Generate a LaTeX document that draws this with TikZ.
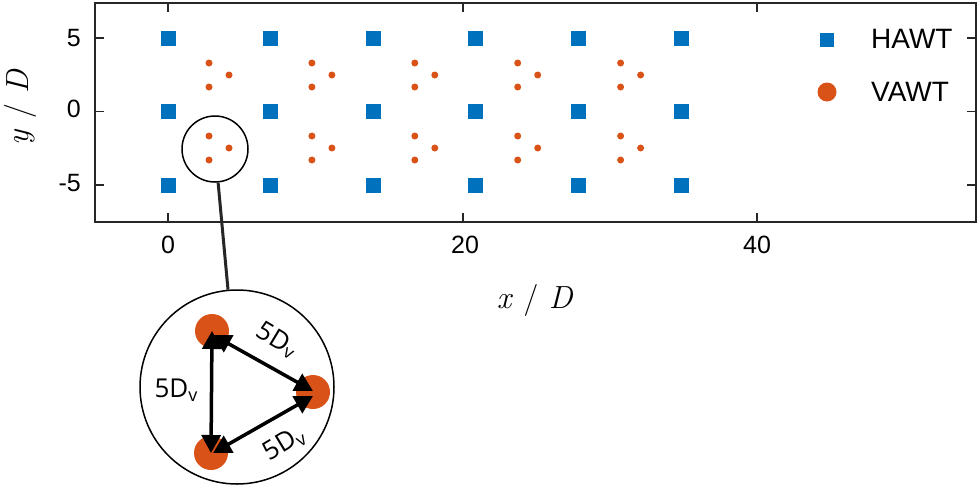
\documentclass[tikz,border=0pt]{standalone}
\usepackage{fontspec}
\setmainfont{Liberation Sans}
\newfontfamily\insetfont{Open Sans}
\newfontfamily\lmserif{Latin Modern Roman}
\usetikzlibrary{arrows.meta}
\definecolor{hawt}{RGB}{0,114,189}
\definecolor{vawt}{RGB}{217,83,25}
\definecolor{axc}{RGB}{38,38,38}
\begin{document}
\begin{tikzpicture}[x=1pt,y=-1pt,
  hsq/.style={rectangle, fill=hawt, minimum size=15pt, inner sep=0pt},
  vdot/.style={circle, fill=vawt, minimum size=7pt, inner sep=0pt},
  ticklbl/.style={inner sep=0pt, text=black, font=\fontsize{25}{28}\selectfont},
  leglbl/.style={inner sep=0pt, anchor=west, text=black, font=\fontsize{28}{32}\selectfont},
  axlbl/.style={inner sep=0pt, font=\lmserif\fontsize{32}{36}\selectfont},
  tickmark/.style={axc, line width=1.2pt},
  ring/.style={circle, draw=black, line width=1.5pt, inner sep=0pt},
  bigdot/.style={circle, fill=vawt, minimum size=34pt, inner sep=0pt},
  dimarrow/.style={black, line width=3.5pt, {Triangle[length=18pt,width=19pt]}-{Triangle[length=18pt,width=19pt]}},
  insetlbl/.style={inner sep=0pt, text=black, font=\insetfont\fontsize{26}{30}\selectfont}]
\useasboundingbox (0,0) rectangle (980,490);
% axes box
\draw[axc, line width=1.3pt] (95,3) rectangle (976,222);
% ticks
\foreach \tx in {168,463,757} {
  \draw[tickmark] (\tx,222) -- (\tx,213);
  \draw[tickmark] (\tx,3) -- (\tx,12);
}
\foreach \ty in {38,111.5,185} {
  \draw[tickmark] (95,\ty) -- (104,\ty);
  \draw[tickmark] (976,\ty) -- (967,\ty);
}
% tick labels
\node[ticklbl, anchor=east] (ty5) at (81,38) {5};
\node[ticklbl, anchor=east] (ty0) at (81,109) {0};
\node[ticklbl, anchor=east] (tym5) at (81,183) {-5};
\node[ticklbl] (tx0) at (168,245) {0};
\node[ticklbl] (tx20) at (465,245) {20};
\node[ticklbl] (tx40) at (757,245) {40};
% axis labels
\node[axlbl] (xlab) at (535,300) {\textit{x}\,\,/\,\,\textit{D}};
\node[axlbl, rotate=90] (ylab) at (20,107) {\textit{y}\,\,/\,\,\textit{D}};
% HAWT squares
\foreach \i in {0,...,5} {
  \foreach \yy/\n in {38/a,111.5/b,185/c} {
    \node[hsq] (h\i\n) at ({168+102.6*\i},\yy) {};
  }
}
% VAWT clusters
\foreach \i [evaluate=\i as \xl using 209+102.9*\i, evaluate=\i as \xr using 229+102.9*\i] in {0,...,4} {
  \node[vdot] (v\i-1) at (\xl,63) {};
  \node[vdot] (v\i-2) at (\xl,87) {};
  \node[vdot] (v\i-3) at (\xr,75) {};
  \node[vdot] (v\i-4) at (\xl,136) {};
  \node[vdot] (v\i-5) at (\xl,160) {};
  \node[vdot] (v\i-6) at (\xr,148) {};
}
% legend
\node[hsq, minimum size=14pt] (lh) at (827,40) {};
\node[leglbl] (lht) at (871,39) {HAWT};
\node[circle, fill=vawt, minimum size=19pt, inner sep=0pt] (lv) at (827,92) {};
\node[leglbl] (lvt) at (871,92) {VAWT};
% zoom circles
\node[ring, minimum size=66pt] (zoomc) at (215,149) {};
\node[ring, minimum size=194pt] (inset) at (237,387) {};
\draw[black!85, line width=3pt] (zoomc) -- (inset);
% inset turbines
\node[bigdot] (p1) at (212,331) {};
\node[bigdot] (p2) at (313,392) {};
\node[bigdot] (p3) at (211,453) {};
\draw[dimarrow] (p1.center) -- (p3.center);
\draw[dimarrow] ([xshift=1pt,yshift=-4pt]p1.center) -- ([yshift=1pt]p2.center);
\draw[dimarrow] ([xshift=2pt]p3.center) -- ([yshift=-4pt]p2.center);
% inset labels
\node[insetlbl] (l1) at (176,390) {5D\raisebox{-0.25ex}{\fontsize{18}{18}\selectfont v}};
\node[insetlbl, rotate=-31] (l2) at (277,340) {5D\raisebox{-0.25ex}{\fontsize{18}{18}\selectfont v}};
\node[insetlbl, rotate=31] (l3) at (284,444) {5D\raisebox{-0.25ex}{\fontsize{18}{18}\selectfont v}};
\end{tikzpicture}
\end{document}
